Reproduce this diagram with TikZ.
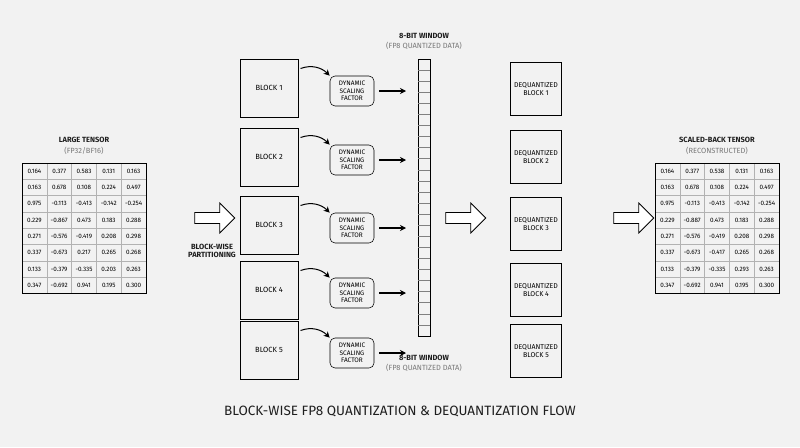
\documentclass[tikz,border=0pt]{standalone}
\usepackage{fontspec}
\setmainfont{Fira Sans}
\usetikzlibrary{positioning,shapes.arrows,arrows.meta}
\definecolor{bgc}{RGB}{242,242,242}
\definecolor{subc}{RGB}{120,120,120}
\definecolor{txt}{RGB}{30,30,30}
\tikzset{every picture/.style={line width=0.55pt}}
\tikzset{
  blk/.style={draw,line width=1pt,minimum width=58,minimum height=58,font=\fontsize{7.5}{8.5}\selectfont},
  dq/.style={draw,line width=1pt,minimum width=44,minimum height=53,align=center,font=\fontsize{7}{8}\selectfont},
  dsf/.style={draw,rounded corners=5,minimum width=44,minimum height=30,align=center,inner sep=1,font=\fontsize{6.5}{7.3}\selectfont},
  bigarr/.style={draw,line width=0.8pt,single arrow,minimum width=30,single arrow head extend=6,minimum height=40,inner sep=3,fill=white},
  ttl/.style={font=\fontsize{7.5}{8.5}\selectfont\bfseries,align=center,text=txt},
  sub/.style={font=\fontsize{7.5}{8.5}\selectfont,text=subc},
  cell/.style={font=\fontsize{6.3}{7}\selectfont},
  blkarr/.style={-{Stealth[length=6,width=6]},line width=1.2pt}
}
\newcommand{\tensor}[3]{% #1 name, #2 left x, #3 values
  \foreach \v [count=\k from 0] in {#3}{
    \pgfmathtruncatemacro{\cc}{mod(\k,5)}
    \pgfmathtruncatemacro{\rr}{div(\k,5)}
    \node[cell] (#1-\rr-\cc) at (#2+12.4+\cc*24.8, 171.2+\rr*16.3) {\v};
  }
  \foreach \i in {1,...,4} \draw[gray!60] (#2+\i*24.8,163) -- (#2+\i*24.8,293.4);
  \foreach \j in {1,...,7} \draw[gray!60] (#2,163+\j*16.3) -- (#2+124,163+\j*16.3);
  \draw[line width=1pt] (#2,163) rectangle (#2+124,293.4);
}
\begin{document}
\begin{tikzpicture}[x=1pt,y=-1pt]
  \fill[bgc] (0,0) rectangle (800,447);
  \useasboundingbox (0,0) rectangle (800,447);

  % input tensor
  \node[ttl] (lt) at (84,140) {LARGE TENSOR};
  \node[sub] (ltsub) at (84,151) {(FP32/BF16)};
  \tensor{in}{22}{0.164,0.377,0.583,0.131,0.163,0.163,0.678,0.108,0.224,0.497,0.975,-0.113,-0.413,-0.142,-0.254,0.229,-0.867,0.473,0.183,0.288,0.271,-0.576,-0.419,0.208,0.298,0.337,-0.673,0.217,0.265,0.268,0.133,-0.379,-0.335,0.203,0.263,0.347,-0.692,0.941,0.195,0.300}

  \node[bigarr] (a1) at (212,218) {};
  \node[ttl] (part) at (212,251) {BLOCK-WISE\\PARTITIONING};

  % blocks and scaling factors
  \foreach \n/\y in {1/88,2/157,3/225,4/290,5/350}{
    \node[blk] (b\n) at (269,\y) {BLOCK \n};
    \node[dsf] (s\n) at (352,\y+3) {DYNAMIC\\SCALING\\FACTOR};
    \coordinate (w\n) at (406,\y+3);
    \draw[blkarr] (s\n.east) ++(5,0) coordinate (e\n) -- (w\n);
    \draw[-{Stealth[length=6,width=6]},line width=1pt] (b\n.north east) ++(2,10) coordinate (c\n) to[out=20,in=135] (s\n.north west);
  }

  % 8-bit window
  \draw[line width=1pt] (418,59) rectangle (430,336);
  \foreach \j in {1,...,24} \draw[gray] (418,59+\j*11.08) -- (430,59+\j*11.08);
  \node[ttl] (wt) at (424,36) {8-BIT WINDOW};
  \node[sub] (wts) at (424,46) {(FP8 QUANTIZED DATA)};
  \node[ttl] (wb) at (424,358) {8-BIT WINDOW};
  \node[sub] (wbs) at (424,368) {(FP8 QUANTIZED DATA)};

  \node[bigarr] (a2) at (463,218) {};

  % dequantized blocks
  \foreach \n/\y in {1/89,2/157,3/224,4/290,5/351}
    \node[dq] (d\n) at (536,\y) {DEQUANTIZED\\BLOCK \n};

  \node[bigarr] (a3) at (631,218) {};

  % output tensor
  \node[ttl] (ot) at (717,140) {SCALED-BACK TENSOR};
  \node[sub] (otsub) at (717,151) {(RECONSTRUCTED)};
  \tensor{out}{655}{0.164,0.377,0.538,0.131,0.163,0.163,0.678,0.108,0.224,0.497,0.975,-0.113,-0.413,-0.142,-0.254,0.229,-0.887,0.473,0.183,0.288,0.271,-0.576,-0.419,0.208,0.298,0.337,-0.673,-0.417,0.265,0.268,0.133,-0.379,-0.335,0.293,0.263,0.347,-0.692,0.941,0.195,0.300}

  \node[font=\fontsize{13.5}{15}\selectfont,text=txt] (title) at (400,411) {BLOCK-WISE FP8 QUANTIZATION \& DEQUANTIZATION FLOW};
\end{tikzpicture}
\end{document}
